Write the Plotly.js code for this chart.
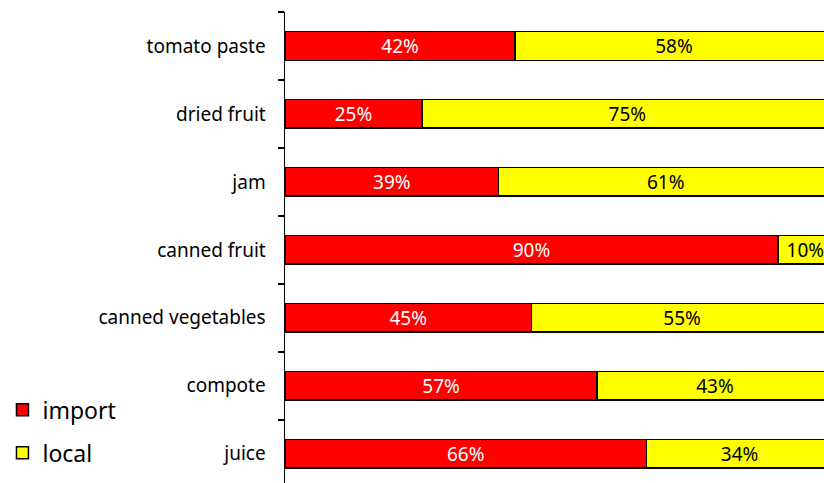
<!DOCTYPE html>
<html>
<head>
<meta charset="utf-8">
<script src="https://cdn.plot.ly/plotly-3.0.1.min.js"></script>
<style>html,body{margin:0;padding:0;background:#fff;}#chart{width:824px;height:483px;}</style>
</head>
<body>
<div id="chart"></div>
<script>
var categories = ["juice", "compote", "canned vegetables", "canned fruit", "jam", "dried fruit", "tomato paste"];
var importValues = [66, 57, 45, 90, 39, 25, 42];
var localValues = [34, 43, 55, 10, 61, 75, 58];
var seriesNames = ["import", "local"];

var FONT = "Noto Sans";

function pct(v) { return v.map(function (x) { return x + "%"; }); }

var traces = [
  {
    type: "bar", orientation: "h", name: seriesNames[0], legendgroup: "a",
    y: categories, x: importValues, text: pct(importValues),
    textposition: "inside", insidetextanchor: "middle", constraintext: "none",
    textfont: { family: FONT, size: 19, color: "#ffffff" },
    marker: { color: "#ff0000", line: { color: "#000000", width: 1.5 } },
    width: 0.42, hoverinfo: "x+y"
  },
  {
    type: "bar", orientation: "h", name: seriesNames[1], legendgroup: "b",
    y: categories, x: localValues, text: pct(localValues),
    textposition: "inside", insidetextanchor: "middle", constraintext: "none",
    textfont: { family: FONT, size: 19, color: "#000000" },
    marker: { color: "#ffff00", line: { color: "#000000", width: 1.5 } },
    width: 0.42, hoverinfo: "x+y"
  }
];

var layout = {
  width: 824, height: 483,
  margin: { l: 285, r: 0, t: 12, b: 0, pad: 0 },
  paper_bgcolor: "#ffffff", plot_bgcolor: "#ffffff",
  barmode: "stack",
  font: { family: FONT, size: 19, color: "#000000" },
  showlegend: true,
  legend: {
    xref: "container", yref: "container",
    x: 0.003, y: 0.018, xanchor: "left", yanchor: "bottom",
    traceorder: "grouped", tracegroupgap: 10,
    font: { family: FONT, size: 23, color: "#000000" },
    bgcolor: "rgba(0,0,0,0)", itemclick: false
  },
  xaxis: { range: [0, 98.4], visible: false, fixedrange: true },
  yaxis: {
    type: "category", range: [-0.43, 6.5],
    showline: true, linecolor: "#000000", linewidth: 1.5,
    ticks: "outside", tickson: "boundaries", ticklen: 6, tickwidth: 1.5, tickcolor: "#000000",
    ticklabelstandoff: 14,
    showgrid: false, zeroline: false,
    tickfont: { family: FONT, size: 19, color: "#000000" },
    fixedrange: true
  }
};

Plotly.newPlot("chart", traces, layout, { displayModeBar: false, staticPlot: true });
</script>
</body>
</html>
